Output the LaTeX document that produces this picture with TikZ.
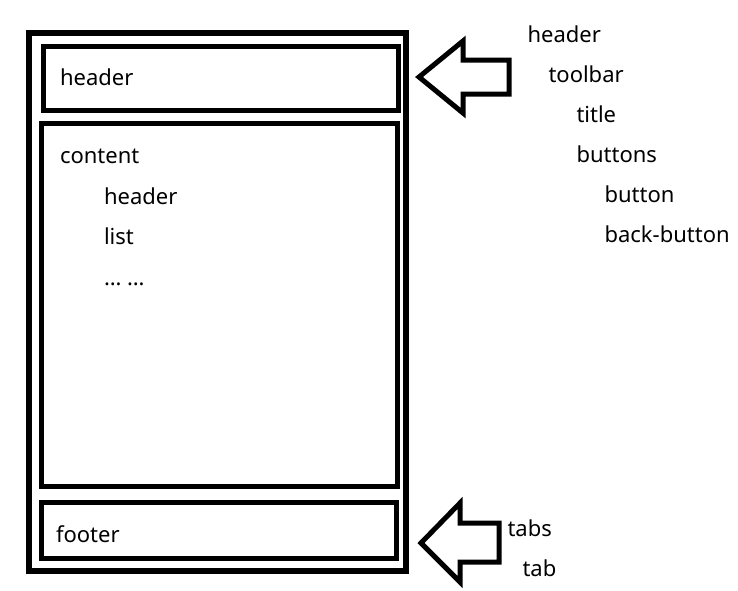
\documentclass[tikz,border=0pt]{standalone}
\usepackage{fontspec}
\setmainfont{Noto Sans}
\usetikzlibrary{positioning}

\begin{document}
\begin{tikzpicture}[x=1pt, y=-1pt, line width=5pt]
\tikzstyle{box}=[draw, rectangle, inner sep=0pt]
\tikzstyle{lbl}=[anchor=base west, inner sep=0pt, font=\fontsize{22}{26}\selectfont]
\tikzstyle{bigarrow}=[draw, line join=miter]
\useasboundingbox (0,0) rectangle (738,590);

% page and its three parts
\node[box, line width=6pt, minimum width=376.5pt, minimum height=538pt] (page) at (217.25,302) {};
\node[box, minimum width=355pt, minimum height=64pt]    (hdr)     at (221,78)     {};
\node[box, minimum width=356pt, minimum height=362.5pt] (content) at (219,304.75) {};
\node[box, minimum width=355pt, minimum height=56pt]    (footer)  at (218.5,530)  {};

\node[lbl] (hdrtxt)  at ([shift={(16.5,7)}]hdr.west)            {header};
\node[lbl] (cnttxt)  at ([shift={(19,42.5)}]content.north west) {content};
\node[lbl] (cnthdr)  at ([shift={(44,41)}]cnttxt.base west)     {header};
\node[lbl] (cntlist) at ([shift={(0,40)}]cnthdr.base west)      {list};
\node[lbl] (cntmore) at ([shift={(0,41)}]cntlist.base west)     {… …};
\node[lbl] (ftrtxt)  at ([shift={(15,12)}]footer.west)          {footer};

% header arrow and tree
\coordinate (htip) at ([shift={(18,-1)}]hdr.east);
\draw[bigarrow] (htip) -- ++(44,-36) -- ++(0,19) -- ++(46,0) -- ++(0,34) -- ++(-46,0) -- ++(0,19) -- cycle;
\node[lbl] (thead)    at ([shift={(106,-35)}]htip)         {header};
\node[lbl] (ttoolbar) at ([shift={(21,40)}]thead.base west)    {toolbar};
\node[lbl] (ttitle)   at ([shift={(28,40)}]ttoolbar.base west) {title};
\node[lbl] (tbuttons) at ([shift={(0,40)}]ttitle.base west)    {buttons};
\node[lbl] (tbutton)  at ([shift={(28,40)}]tbuttons.base west) {button};
\node[lbl] (tback)    at ([shift={(0,40)}]tbutton.base west)   {back-button};

% footer arrow and tree
\coordinate (ftip) at ([shift={(22.5,13)}]footer.east);
\draw[bigarrow] (ftip) -- ++(39,-40) -- ++(0,20) -- ++(39,0) -- ++(0,39) -- ++(-39,0) -- ++(0,20) -- cycle;
\node[lbl] (ttabs) at ([shift={(84,-7)}]ftip)          {tabs};
\node[lbl] (ttab)  at ([shift={(15,40)}]ttabs.base west) {tab};

\end{tikzpicture}
\end{document}
